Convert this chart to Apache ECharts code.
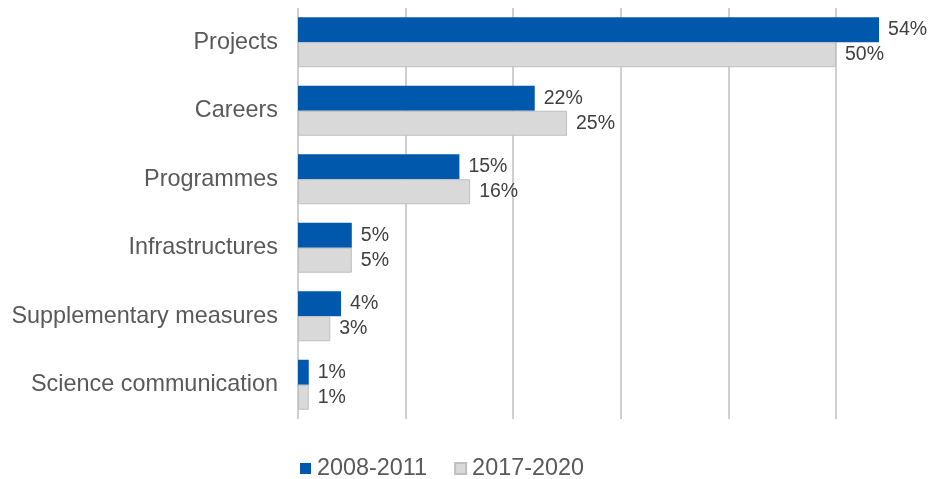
<!DOCTYPE html>
<html>
<head>
<meta charset="utf-8">
<script src="https://cdn.jsdelivr.net/npm/echarts@6/dist/echarts.min.js"></script>
<style>
  html, body { margin: 0; padding: 0; background: #ffffff; }
  #chart { width: 933px; height: 479px; }
</style>
</head>
<body>
<div id="chart"></div>
<script>
// Funding share by instrument type, two programme periods
const categories = ['Projects', 'Careers', 'Programmes', 'Infrastructures', 'Supplementary measures', 'Science communication'];
const seriesNames = ['2008-2011', '2017-2020'];
const share2008 = [54, 22, 15, 5, 4, 1];
const share2017 = [50, 25, 16, 5, 3, 1];

const FONT = '"Liberation Sans", Arial, sans-serif';
const chart = echarts.init(document.getElementById('chart'), null, { renderer: 'canvas' });

const valueLabel = {
  show: true,
  position: 'right',
  distance: 9,
  formatter: '{c}%',
  fontFamily: FONT,
  fontSize: 19.5,
  color: '#404040'
};

chart.setOption({
  animation: false,
  backgroundColor: '#ffffff',
  // the 0–60 % plot area runs a little past the right edge of the page
  grid: { left: 298, top: 8, width: 645.6, height: 411, containLabel: false, outerBoundsMode: 'none' },
  xAxis: {
    type: 'value',
    min: 0,
    max: 60,
    interval: 10,
    axisLine: { show: false },
    axisTick: { show: false },
    axisLabel: { show: false },
    splitLine: { show: true, lineStyle: { color: '#bfbfbf', width: 1.5 } }
  },
  yAxis: {
    type: 'category',
    data: categories,
    inverse: true,
    axisLine: { show: false },
    axisTick: { show: false },
    axisLabel: { margin: 20, fontFamily: FONT, fontSize: 23.4, color: '#595959', padding: [3, 0, 0, 0] }
  },
  legend: {
    data: seriesNames,
    left: 300,
    top: 457,
    padding: 0,
    itemWidth: 11,
    itemHeight: 11,
    itemGap: 27,
    icon: 'rect',
    textStyle: { fontFamily: FONT, fontSize: 23.4, color: '#595959', padding: [0, 0, 0, 1] }
  },
  series: [
    {
      name: seriesNames[0],
      type: 'bar',
      data: share2008,
      barGap: '0%',
      barCategoryGap: '27%',
      itemStyle: { color: '#0058ad' },
      label: valueLabel,
      emphasis: { disabled: true }
    },
    {
      name: seriesNames[1],
      type: 'bar',
      data: share2017,
      barGap: '0%',
      barCategoryGap: '27%',
      itemStyle: { color: '#d9d9d9', borderColor: '#bfbfbf', borderWidth: 1 },
      label: valueLabel,
      emphasis: { disabled: true }
    }
  ]
});
</script>
</body>
</html>
